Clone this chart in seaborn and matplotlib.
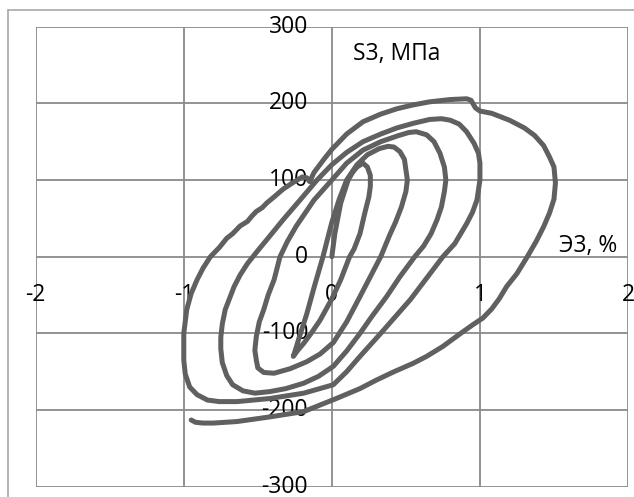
import numpy as np
import pandas as pd
import matplotlib
matplotlib.use("Agg")
import matplotlib.pyplot as plt
from matplotlib.lines import Line2D
import seaborn as sns

# Cyclic loading with growing strain amplitude: each half-cycle is one branch.
# Strain, % (Э3) and stress, MPa (S3).
h0_x = [0.00, 0.02, 0.04, 0.06, 0.09, 0.11, 0.14, 0.17, 0.21]
h0_y = [0, 30, 50, 70, 88, 100, 110, 117, 122]

h1_x = [0.24, 0.26, 0.26, 0.25, 0.22, 0.19, 0.15, 0.12, 0.06, 0.00, -0.08, -0.14, -0.19, -0.23, -0.26]
h1_y = [117, 106, 92, 78, 55, 30, 10, 0, -30, -55, -83, -100, -113, -122, -130]

h2_x = [-0.24, -0.22, -0.17, -0.12, -0.06, 0.00, 0.05, 0.10, 0.17, 0.24, 0.32, 0.38, 0.42, 0.46, 0.49]
h2_y = [-118, -105, -75, -40, 0, 45, 75, 100, 120, 133, 141, 144, 143, 137, 127]

h3_x = [0.50, 0.51, 0.50, 0.47, 0.43, 0.39, 0.33, 0.26, 0.19, 0.10, 0.01, -0.08, -0.17, -0.28, -0.39, -0.46, -0.50, -0.51]
h3_y = [113, 100, 85, 65, 45, 28, 0, -26, -52, -85, -112, -127, -137, -146, -152, -151, -145, -135]

h4_x = [-0.52, -0.51, -0.49, -0.46, -0.43, -0.39, -0.35, -0.30, -0.24, -0.12, 0.00, 0.10, 0.21, 0.33, 0.45, 0.52, 0.57]
h4_y = [-122, -104, -85, -69, -50, -30, 0, 20, 40, 74, 100, 122, 139, 150, 158, 162, 163]

h5_x = [0.64, 0.69, 0.73, 0.76, 0.77, 0.76, 0.74, 0.71, 0.67, 0.62, 0.56, 0.46, 0.37, 0.27, 0.19, 0.10,
        0.01, -0.09, -0.19, -0.31, -0.42, -0.52, -0.60, -0.67, -0.71, -0.74, -0.75]
h5_y = [159, 150, 135, 117, 100, 85, 65, 48, 30, 14, 0, -26, -52, -78, -100, -123,
        -143, -156, -165, -172, -176, -178, -175, -167, -155, -138, -120]

h6_x = [-0.75, -0.74, -0.72, -0.69, -0.66, -0.62, -0.57, -0.50, -0.44, -0.33, -0.21, -0.10, 0.00, 0.10,
        0.21, 0.33, 0.44, 0.55, 0.66, 0.74, 0.80]
h6_y = [-105, -88, -69, -54, -39, -24, -9, 8, 22, 48, 75, 100, 120, 136,
        150, 160, 168, 174, 179, 180, 178]

h7_x = [0.86, 0.91, 0.96, 0.99, 1.00, 1.00, 0.98, 0.95, 0.91, 0.87, 0.83, 0.75, 0.64, 0.53, 0.43, 0.33,
        0.19, 0.10, 0.01, -0.19, -0.42, -0.64, -0.76, -0.84, -0.91, -0.96, -0.99, -1.00, -1.00, -0.98,
        -0.95, -0.91, -0.87]
h7_y = [173, 163, 148, 135, 122, 100, 74, 58, 43, 30, 17, 0, -28, -56, -78, -100,
        -130, -150, -167, -178, -185, -189, -189, -187, -180, -170, -153, -135, -100, -69,
        -48, -30, -15]

h8_x = [-0.82, -0.76, -0.71, -0.67, -0.62, -0.57, -0.54, -0.51, -0.47, -0.44, -0.39, -0.33, -0.26,
        -0.20, -0.17, -0.15, -0.12, -0.05, 0.00, 0.10, 0.21, 0.33, 0.44, 0.55, 0.66, 0.80, 0.91, 0.94]
h8_y = [0, 12, 24, 30, 40, 46, 53, 59, 64, 70, 78, 88, 97,
        104, 103, 98, 110, 128, 140, 160, 176, 186, 193, 198, 202, 205, 206, 204]

h9_x = [0.97, 1.00, 1.08, 1.20, 1.30, 1.37, 1.43, 1.47, 1.50, 1.51, 1.50, 1.47, 1.43, 1.38, 1.32, 1.25,
        1.18, 1.13, 1.08, 1.02, 0.95, 0.87, 0.75, 0.64, 0.55, 0.42, 0.30, 0.19, 0.03, -0.19, -0.42,
        -0.64, -0.80, -0.87, -0.92, -0.95]
h9_y = [194, 190, 187, 178, 168, 158, 145, 130, 117, 96, 75, 57, 39, 20, 0, -22,
        -39, -55, -68, -80, -89, -100, -117, -130, -139, -150, -161, -172, -185, -202, -209,
        -215, -217, -217, -216, -213]

x_ticks = [-2, -1, 0, 1, 2]
y_ticks = [-300, -200, -100, 0, 100, 200, 300]
x_title = "Э3, %"
y_title = "S3, МПа"

branches_x = [h0_x, h1_x, h2_x, h3_x, h4_x, h5_x, h6_x, h7_x, h8_x, h9_x]
branches_y = [h0_y, h1_y, h2_y, h3_y, h4_y, h5_y, h6_y, h7_y, h8_y, h9_y]
df = pd.DataFrame({
    "strain": np.concatenate(branches_x),
    "stress": np.concatenate(branches_y),
})

sns.set_theme(style="white")
plt.rcParams["font.family"] = ["Open Sans", "DejaVu Sans"]

fig = plt.figure(figsize=(6.34, 4.97), dpi=100)
ax = fig.add_axes([35.7 / 634, 10.3 / 497, 592.3 / 634, 460.0 / 497])

grid_color = "#8a8a8a"
sns.lineplot(data=df, x="strain", y="stress", sort=False, estimator=None, ax=ax,
             color="#606060", linewidth=3.6, solid_joinstyle="round",
             solid_capstyle="round", zorder=3)

ax.set_xlim(-2, 2)
ax.set_ylim(-300, 300)
ax.set_xticks(x_ticks)
ax.set_yticks(y_ticks)
ax.set_xticklabels([str(v) for v in x_ticks])
ax.set_yticklabels([str(v) for v in y_ticks])
ax.set_xlabel("")
ax.set_ylabel("")
ax.grid(True, color=grid_color, linewidth=1.3)
ax.set_axisbelow(True)

# Axes cross at the origin; labels sit next to the crossing lines
for side in ["left", "right", "top", "bottom"]:
    ax.spines[side].set_visible(False)
ax.spines["left"].set_position(("data", 0))
ax.spines["bottom"].set_position(("data", 0))
ax.tick_params(axis="x", length=0, pad=19, labelsize=16.5, colors="black")
ax.tick_params(axis="y", length=0, pad=17, labelsize=16.5, colors="black")
for lab in ax.get_yticklabels():
    lab.set_verticalalignment("center")

ax.text(0.44, 264, y_title, ha="center", va="center", fontsize=16.5, color="black")
ax.text(1.73, 14, x_title, ha="center", va="center", fontsize=16.5, color="black")

# Chart area frame
frame_kw = dict(color="#a8a8a8", linewidth=1.2, transform=fig.transFigure)
fig.add_artist(Line2D([8 / 634, 8 / 634], [0, 1 - 10 / 497], **frame_kw))
fig.add_artist(Line2D([8 / 634, 1], [1 - 10 / 497, 1 - 10 / 497], **frame_kw))

fig.savefig("out.png", dpi=100, facecolor="white")
